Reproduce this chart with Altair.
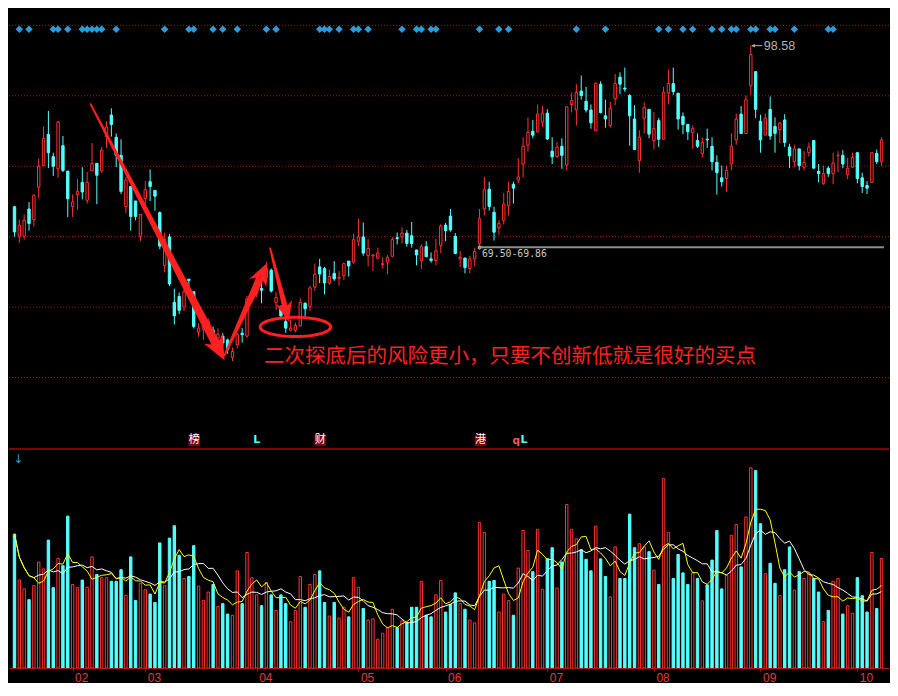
import math
import altair as alt
import pandas as pd

# ---------------- data ----------------
opens = [75.64, 71.42, 71.42, 75.32, 73.81, 78.42, 81.50, 85.94, 82.78, 81.04,
         84.33, 80.72, 75.68, 77.38, 79.11, 76.56, 80.76, 81.82, 80.76, 85.62,
         88.69, 85.53, 82.96, 75.68, 78.52, 76.46, 71.42, 76.83, 79.21, 77.97,
         74.81, 67.30, 71.34, 62.03, 62.86, 61.35, 65.33, 63.54, 57.77, 58.19,
         59.05, 58.05, 56.95, 57.22, 56.67, 54.20, 55.99, 57.64, 57.22, 62.45,
         63.27, 64.03, 65.47, 66.61, 62.03, 61.21, 59.28, 58.05, 58.05, 58.69,
         61.90, 61.44, 64.19, 67.08, 66.84, 64.78, 66.15, 65.47, 65.84, 67.90,
         67.76, 70.73, 71.34, 68.67, 68.63, 68.31, 67.39, 67.76, 68.59, 71.24,
         71.34, 71.89, 71.51, 69.49, 67.98, 69.96, 68.22, 67.98, 70.14, 73.02,
         74.30, 71.42, 68.22, 68.35, 66.84, 68.22, 70.37, 75.32, 78.15, 74.85,
         72.65, 73.71, 75.77, 78.84, 79.44, 81.72, 84.39, 86.39, 86.31, 87.69,
         88.96, 83.56, 82.78, 84.25, 81.59, 90.20, 89.42, 92.12, 90.65, 89.42,
         86.49, 93.09, 88.59, 87.22, 91.02, 94.09, 92.54, 91.48, 88.14, 82.19,
         88.24, 89.51, 85.07, 87.91, 85.25, 91.81, 93.18, 91.81, 88.51, 87.36,
         86.17, 85.07, 83.23, 85.25, 84.25, 81.96, 79.76, 79.66, 81.72, 85.16,
         88.83, 86.08, 92.85, 94.87, 87.82, 85.84, 89.51, 87.08, 86.63, 88.00,
         84.15, 82.05, 83.88, 81.27, 83.33, 85.07, 80.68, 78.97, 81.13, 80.35,
         82.92, 82.96, 80.21, 81.27, 83.33, 79.76, 78.66, 79.11, 83.23, 82.05]

highs = [75.77, 73.81, 74.54, 76.32, 77.38, 82.51, 87.08, 89.28, 83.33, 87.86,
         85.71, 80.72, 77.38, 79.58, 81.27, 80.58, 84.70, 81.82, 84.15, 87.82,
         89.65, 86.08, 85.25, 79.89, 78.52, 76.46, 74.54, 79.30, 80.95, 77.97,
         74.95, 71.97, 71.79, 63.96, 63.41, 63.86, 65.33, 63.54, 59.05, 59.56,
         59.74, 58.60, 58.32, 57.64, 56.85, 55.62, 57.68, 58.36, 62.95, 63.68,
         64.64, 64.78, 67.80, 66.84, 63.54, 61.62, 59.74, 59.52, 59.15, 62.62,
         62.03, 64.41, 67.53, 68.22, 67.08, 66.70, 67.90, 66.47, 67.67, 67.90,
         71.79, 73.95, 73.40, 71.06, 68.90, 69.82, 68.45, 68.77, 71.34, 71.97,
         72.71, 72.34, 73.48, 69.49, 70.28, 70.73, 69.14, 71.06, 73.16, 73.34,
         75.32, 71.89, 69.36, 68.35, 68.67, 69.82, 75.32, 79.89, 79.21, 75.64,
         73.71, 77.60, 79.21, 79.21, 82.55, 85.53, 88.37, 88.00, 90.20, 89.97,
         89.51, 85.53, 84.84, 85.39, 89.88, 91.89, 93.09, 94.32, 92.71, 90.20,
         93.36, 93.50, 90.89, 90.57, 94.56, 94.78, 95.46, 91.67, 90.10, 86.53,
         90.52, 89.51, 89.14, 88.28, 92.71, 95.15, 95.46, 91.81, 89.06, 87.45,
         87.22, 86.08, 85.53, 86.77, 85.53, 82.96, 81.50, 81.50, 86.08, 88.92,
         89.97, 91.48, 98.58, 94.87, 88.73, 88.92, 91.34, 88.37, 87.69, 88.83,
         84.61, 84.47, 83.88, 83.56, 84.80, 85.07, 81.72, 81.50, 81.41, 83.33,
         83.56, 83.70, 82.64, 83.33, 83.43, 80.49, 79.30, 83.43, 83.78, 85.53]

lows = [71.38, 70.51, 70.96, 72.24, 72.79, 76.83, 81.41, 81.13, 80.03, 79.76,
        80.58, 74.17, 74.17, 75.18, 76.69, 76.09, 80.76, 76.01, 80.40, 84.02,
        85.62, 81.27, 77.46, 74.72, 72.24, 73.71, 70.73, 75.77, 76.46, 75.09,
        69.59, 66.29, 64.37, 58.87, 60.38, 60.80, 62.72, 58.32, 57.13, 56.67,
        57.68, 56.95, 56.40, 55.85, 54.71, 53.65, 55.48, 56.30, 56.99, 62.03,
        62.72, 61.90, 64.92, 63.41, 60.93, 59.70, 57.68, 57.91, 57.77, 58.60,
        59.97, 60.80, 63.64, 64.78, 63.17, 64.55, 65.10, 64.41, 65.23, 65.70,
        67.53, 70.04, 68.67, 67.16, 66.47, 68.22, 66.84, 66.02, 68.45, 70.28,
        70.41, 69.96, 69.82, 67.30, 66.75, 68.45, 67.67, 67.30, 69.04, 70.73,
        72.10, 68.90, 67.08, 66.15, 66.15, 67.16, 69.50, 74.40, 75.09, 70.83,
        71.65, 73.12, 74.40, 76.09, 78.97, 79.80, 83.47, 85.39, 86.22, 87.00,
        85.16, 81.72, 82.64, 81.04, 80.82, 89.06, 87.22, 90.89, 89.06, 86.76,
        86.42, 88.92, 86.90, 86.90, 90.10, 91.67, 92.00, 84.33, 83.78, 80.49,
        86.08, 85.39, 83.78, 84.15, 85.16, 90.20, 91.57, 86.63, 85.98, 85.16,
        83.88, 84.02, 82.64, 84.02, 80.82, 77.38, 78.52, 77.74, 80.82, 84.47,
        86.08, 86.08, 91.57, 88.28, 83.33, 85.84, 85.16, 83.33, 84.70, 84.15,
        81.13, 81.27, 80.82, 80.82, 82.78, 81.13, 79.11, 78.76, 79.89, 78.84,
        80.58, 81.13, 79.58, 81.27, 78.97, 77.60, 77.46, 79.11, 81.72, 81.41]

closes = [72.06, 73.02, 73.71, 73.26, 77.28, 81.41, 85.35, 83.33, 81.41, 87.69,
          80.82, 76.78, 76.32, 77.83, 77.74, 79.11, 81.82, 80.13, 83.70, 87.00,
          87.36, 82.96, 77.83, 79.44, 74.26, 74.26, 74.54, 78.07, 78.52, 77.15,
          70.04, 70.96, 64.64, 60.11, 60.89, 63.54, 65.12, 58.60, 58.36, 58.87,
          59.28, 57.50, 57.50, 56.26, 55.30, 55.03, 57.50, 57.43, 62.49, 63.27,
          64.09, 63.75, 66.84, 63.64, 62.72, 60.11, 58.36, 58.36, 58.74, 62.03,
          61.11, 64.09, 66.02, 66.06, 64.78, 65.70, 65.37, 65.61, 67.53, 67.21,
          70.96, 71.34, 69.04, 69.69, 68.77, 69.04, 67.53, 68.45, 70.96, 71.10,
          71.89, 70.41, 70.41, 68.77, 69.96, 68.53, 67.98, 69.36, 72.89, 72.24,
          72.34, 69.00, 68.45, 66.98, 68.22, 69.27, 73.95, 78.07, 75.68, 72.02,
          73.26, 76.01, 77.83, 78.29, 79.89, 84.25, 86.22, 85.84, 88.83, 88.96,
          85.29, 82.74, 84.11, 82.96, 89.88, 90.75, 91.94, 91.48, 89.42, 87.59,
          93.22, 89.06, 88.14, 89.65, 93.18, 93.09, 92.40, 88.59, 83.78, 85.53,
          89.75, 85.98, 86.77, 85.25, 91.94, 93.18, 92.03, 88.14, 87.36, 86.31,
          86.77, 84.25, 84.80, 85.16, 82.05, 80.49, 79.21, 80.82, 84.25, 88.14,
          86.08, 90.89, 97.30, 89.51, 85.16, 88.28, 85.71, 86.08, 87.55, 84.80,
          82.88, 83.88, 81.50, 81.96, 84.15, 81.13, 80.35, 80.35, 80.35, 81.86,
          82.96, 81.72, 81.13, 82.64, 79.66, 78.52, 78.29, 83.33, 82.05, 85.16]

volumes = [3.35, 2.20, 1.98, 1.71, 2.06, 2.65, 2.48, 3.20, 2.01, 2.74,
           2.56, 3.80, 2.09, 2.01, 2.20, 2.02, 2.78, 2.34, 2.26, 2.26,
           2.17, 2.17, 2.46, 1.82, 2.78, 1.69, 2.12, 1.96, 1.85, 1.64,
           3.13, 2.06, 3.25, 3.56, 2.82, 2.24, 2.29, 3.06, 2.05, 1.69,
           1.90, 2.09, 1.54, 1.61, 1.35, 1.32, 2.43, 1.61, 2.89, 2.26,
           1.83, 1.56, 2.14, 1.83, 1.44, 1.83, 1.61, 1.16, 1.44, 2.29,
           1.52, 2.09, 2.34, 2.43, 1.64, 1.30, 1.64, 1.25, 1.52, 1.28,
           2.26, 2.02, 1.49, 1.20, 1.23, 0.72, 0.87, 1.01, 1.47, 1.01,
           1.18, 1.13, 1.52, 1.52, 2.17, 1.32, 1.28, 1.83, 2.19, 1.40,
           1.59, 1.88, 1.61, 1.47, 1.20, 1.13, 3.64, 3.39, 2.17, 2.19,
           1.40, 1.85, 1.69, 1.32, 2.50, 3.44, 2.94, 2.41, 3.47, 1.97,
           2.74, 3.01, 2.00, 2.65, 4.09, 3.47, 3.23, 2.96, 2.72, 2.43,
           3.55, 2.73, 2.29, 1.78, 3.03, 2.24, 2.24, 3.85, 3.01, 3.11,
           3.03, 2.91, 2.45, 2.09, 4.74, 3.39, 2.24, 2.84, 2.38, 2.09,
           2.38, 2.24, 1.68, 2.08, 2.70, 3.44, 1.98, 2.32, 3.32, 3.59,
           2.53, 3.78, 5.01, 4.94, 3.61, 2.36, 2.62, 2.12, 1.81, 2.46,
           3.03, 1.95, 2.41, 2.24, 2.36, 2.24, 1.90, 1.16, 1.44, 2.17,
           2.24, 1.35, 1.56, 1.37, 2.26, 1.81, 1.40, 2.89, 1.49, 2.74]

signal_idx = [1, 3, 8, 9, 11, 14, 15, 16, 17, 18, 21, 31, 36, 37, 41, 43, 46, 52, 54,
              63, 64, 65, 67, 70, 71, 73, 80, 83, 84, 86, 87, 96, 100, 102, 116,
              122, 133, 135, 138, 140, 144, 146, 148, 149, 152, 153, 156, 157, 161, 168, 169]
signal_level = 100.9

month_idx = [12, 27, 50, 71, 89, 110, 132, 154, 174]
month_labels = ["02", "03", "04", "05", "06", "07", "08", "09", "10"]

price_grid = [101.47, 91.44, 81.41, 71.38, 61.35, 51.32]
vol_grid = [1, 2, 3, 4, 5]

support_low = 69.50
support_high = 69.86
support_start = 96

event_idx = [37.1, 63.1, 96.2]
event_text = ["榜", "财", "港"]
cyan_letter_idx = [50.0, 105.2]
red_letter_idx = [103.6]
event_level = 42.38

note_text = "二次探底后的风险更小，只要不创新低就是很好的买点"
note_pos = (51.5, 54.2)

# arrows: (tail index, tail price, tip index, tip price)
arrow_1 = (15.8, 90.34, 43.2, 53.79)
arrow_2 = (43.3, 54.34, 52.1, 67.62)
arrow_3 = (52.76, 69.82, 56.6, 59.29)
ring_center = (58.0, 58.53)

# ---------------- styling / layout ----------------
RED = "#ff3232"
CYAN = "#54ffff"
GRID = "#a01414"
SEP = "#b00000"
ARROW = "#ff2020"
BLUE = "#2e9bd6"
GRAY = "#b4b4b4"
AXIS_RED = "#b41414"
MONTH_RED = "#e03c3c"

W = 880
HT = 440
HV = 219
X_DOM = [-0.1, 179.5]
P_DOM = [41.29, 103.94]
V_DOM = [0, 5.48]
PXK = W / (X_DOM[1] - X_DOM[0])
PXP = HT / (P_DOM[1] - P_DOM[0])
BODY = 2.4

n = len(opens)
dirs = ["up" if c >= o else "down" for o, c in zip(opens, closes)]
df = pd.DataFrame({"i": list(range(n)), "open": opens, "high": highs, "low": lows,
                   "close": closes, "vol": volumes, "dir": dirs, "zero": [0.0] * n})

xs = alt.Scale(domain=X_DOM, nice=False, zero=False)
ps = alt.Scale(domain=P_DOM, nice=False, zero=False)
vs = alt.Scale(domain=V_DOM, nice=False, zero=False)
fill_scale = alt.Scale(domain=["up", "down"], range=["#000000", CYAN])
stroke_scale = alt.Scale(domain=["up", "down"], range=[RED, CYAN])

XT = alt.X("i:Q", scale=xs, axis=None)
YP = alt.Y("p:Q", scale=ps, axis=None)
FILL = alt.Fill("dir:N", scale=fill_scale, legend=None)
STROKE = alt.Stroke("dir:N", scale=stroke_scale, legend=None)

base = alt.Chart(df)

# ---- top panel ----
pgrid = alt.Chart(pd.DataFrame({"p": price_grid})).mark_rule(
    color=GRID, strokeDash=[1, 2], strokeWidth=1
).encode(y=YP)

support = alt.Chart(pd.DataFrame({"i": [support_start], "i2": [X_DOM[1]], "p": [support_high]})).mark_rule(
    color="#8c8c8c", strokeWidth=2
).encode(x=XT, x2="i2:Q", y=YP)

support_dot = alt.Chart(pd.DataFrame({"i": [support_start], "p": [support_high]})).mark_square(
    size=12, color="#9a9a9a", opacity=1
).encode(x=XT, y=YP)

support_text = alt.Chart(pd.DataFrame({"i": [support_start + 0.5], "p": [support_high - 0.96],
                                        "t": [f"{support_low:.2f}-{support_high:.2f}"]})).mark_text(
    align="left", baseline="middle", font="DejaVu Sans Mono", fontSize=9.8, color="#c8c8c8"
).encode(x=XT, y=YP, text="t:N")

wicks = base.mark_rule(strokeWidth=1, clip=True).encode(
    x=XT, y=alt.Y("low:Q", scale=ps, axis=None), y2="high:Q", stroke=STROKE)

bodies = base.mark_bar(size=BODY, strokeWidth=1, clip=True).encode(
    x=XT, y=alt.Y("open:Q", scale=ps, axis=None), y2="close:Q", fill=FILL, stroke=STROKE)

diamonds = alt.Chart(pd.DataFrame({"i": signal_idx, "p": [signal_level] * len(signal_idx)})).mark_point(
    shape="diamond", filled=True, size=56, color=BLUE, opacity=1
).encode(x=XT, y=YP)

hi_i = max(range(n), key=lambda k: highs[k])
hi_v = highs[hi_i]
hi_rule = alt.Chart(pd.DataFrame({"i": [hi_i + 0.2], "i2": [hi_i + 2.4], "p": [hi_v]})).mark_rule(
    color=GRAY, strokeWidth=1
).encode(x=XT, x2="i2:Q", y=YP)
hi_head = alt.Chart(pd.DataFrame({"i": [hi_i + 0.5], "p": [hi_v]})).mark_point(
    shape="triangle-left", filled=True, size=14, color=GRAY, opacity=1
).encode(x=XT, y=YP)
hi_text = alt.Chart(pd.DataFrame({"i": [hi_i + 2.7], "p": [hi_v], "t": [f"{hi_v:.2f}"]})).mark_text(
    align="left", baseline="middle", font="Liberation Sans", fontSize=12.5, color=GRAY
).encode(x=XT, y=YP, text="t:N")


def arrow_layer(a, w0, w1, hl, hw):
    k0, p0, k1, p1 = a
    dx = (k1 - k0) * PXK
    dy = -(p1 - p0) * PXP
    L = math.hypot(dx, dy)
    ang = math.degrees(math.atan2(dy, dx)) % 360
    u = L / 2
    pts = [(-L / 2, -w0), (L / 2 - hl, -w1), (L / 2 - hl - 4, -hw), (L / 2, 0),
           (L / 2 - hl - 4, hw), (L / 2 - hl, w1), (-L / 2, w0)]
    path = "M" + " L".join(f"{x / u:.5f},{y / u:.5f}" for x, y in pts) + " Z"
    d = pd.DataFrame({"i": [(k0 + k1) / 2], "p": [(p0 + p1) / 2]})
    return alt.Chart(d).mark_point(
        shape=path, size=L * L, angle=ang, filled=True, color=ARROW, opacity=1
    ).encode(x=XT, y=YP)


arr1 = arrow_layer(arrow_1, 0.9, 4.3, 20, 10.5)
arr2 = arrow_layer(arrow_2, 0.9, 4.0, 18, 9.5)
arr3 = arrow_layer(arrow_3, 0.9, 2.8, 16, 8.5)

rx, ry = 35.3, 9.6
ring_pts = [(math.cos(2 * math.pi * t / 72), (ry / rx) * math.sin(2 * math.pi * t / 72)) for t in range(72)]
ring_path = "M" + " L".join(f"{x:.4f},{y:.4f}" for x, y in ring_pts) + " Z"
ring = alt.Chart(pd.DataFrame({"i": [ring_center[0]], "p": [ring_center[1]]})).mark_point(
    shape=ring_path, size=(2 * rx) ** 2, filled=False, color=ARROW, strokeWidth=3, opacity=1
).encode(x=XT, y=YP)

note = alt.Chart(pd.DataFrame({"i": [note_pos[0]], "p": [note_pos[1]], "t": [note_text]})).mark_text(
    align="left", baseline="middle", font="Noto Sans CJK SC", fontSize=20.5, color=ARROW
).encode(x=XT, y=YP, text="t:N")

ev_df = pd.DataFrame({"i": event_idx, "p": [event_level] * len(event_idx), "t": event_text})
ev_box = alt.Chart(ev_df).mark_square(size=132, color="#800000", opacity=1).encode(x=XT, y=YP)
ev_txt = alt.Chart(ev_df).mark_text(
    align="center", baseline="middle", font="Noto Sans CJK SC", fontSize=11, color="#ffffff"
).encode(x=XT, y=YP, text="t:N")

cl_df = pd.DataFrame({"i": cyan_letter_idx, "p": [event_level] * len(cyan_letter_idx), "t": ["L"] * len(cyan_letter_idx)})
cl_txt = alt.Chart(cl_df).mark_text(
    align="center", baseline="middle", font="DejaVu Sans", fontSize=11, fontWeight="bold", color=CYAN
).encode(x=XT, y=YP, text="t:N")
rl_df = pd.DataFrame({"i": red_letter_idx, "p": [event_level - 0.1] * len(red_letter_idx), "t": ["q"] * len(red_letter_idx)})
rl_txt = alt.Chart(rl_df).mark_text(
    align="center", baseline="middle", font="DejaVu Sans", fontSize=10.5, fontWeight="bold", color="#ff5050"
).encode(x=XT, y=YP, text="t:N")

top = alt.layer(pgrid, support, wicks, bodies, support_dot, support_text, diamonds,
                hi_rule, hi_head, hi_text, arr1, arr2, arr3, ring, note,
                ev_box, ev_txt, rl_txt, cl_txt).properties(width=W, height=HT)

# ---- volume panel ----
label_expr = ("[" + ",".join(f"'{m}'" for m in month_labels) + "][indexof(["
              + ",".join(str(m) for m in month_idx) + "], datum.value)]")
xaxis = alt.Axis(values=month_idx, labelExpr=label_expr, title=None, grid=False,
                 domainColor=AXIS_RED, domainWidth=1, tickColor=AXIS_RED, tickSize=3,
                 labelColor=MONTH_RED, labelFont="Liberation Sans", labelFontSize=12,
                 labelAlign="left", labelOffset=2, labelPadding=1, labelOverlap=False,
                 labelFlush=False, labelBound=False)
XV = alt.X("i:Q", scale=xs, axis=xaxis)
YV = alt.Y("v:Q", scale=vs, axis=None)

vgrid = alt.Chart(pd.DataFrame({"v": vol_grid})).mark_rule(
    color=GRID, strokeDash=[1, 2], strokeWidth=1
).encode(x=XV, y=YV)

vbars = base.mark_bar(size=BODY, strokeWidth=1, clip=True).encode(
    x=XV, y=alt.Y("vol:Q", scale=vs, axis=None, stack=None), y2="zero:Q", fill=FILL, stroke=STROKE)

ma10 = base.transform_window(ma="mean(vol)", frame=[-9, 0], sort=[{"field": "i"}]).mark_line(
    color="#ffffff", strokeWidth=1, clip=True
).encode(x=XV, y=alt.Y("ma:Q", scale=vs, axis=None))
ma5 = base.transform_window(ma="mean(vol)", frame=[-4, 0], sort=[{"field": "i"}]).mark_line(
    color="#ffff00", strokeWidth=1, clip=True
).encode(x=XV, y=alt.Y("ma:Q", scale=vs, axis=None))

sep = alt.Chart(pd.DataFrame({"v": [V_DOM[1]]})).mark_rule(color=SEP, strokeWidth=1.5).encode(y=YV)

down_mark = alt.Chart(pd.DataFrame({"i": [0.8], "v": [5.24], "t": ["↓"]})).mark_text(
    align="center", baseline="middle", font="DejaVu Sans", fontSize=12, color="#3a9ad8"
).encode(x=XV, y=YV, text="t:N")

vol = alt.layer(vgrid, vbars, ma10, ma5, sep, down_mark).properties(width=W, height=HV)

chart = alt.vconcat(top, vol, spacing=0).resolve_scale(y="independent").configure_view(
    stroke=None
).properties(background="#000000", padding=0)

chart.save("out.html", embed_options={"renderer": "svg", "actions": False})
